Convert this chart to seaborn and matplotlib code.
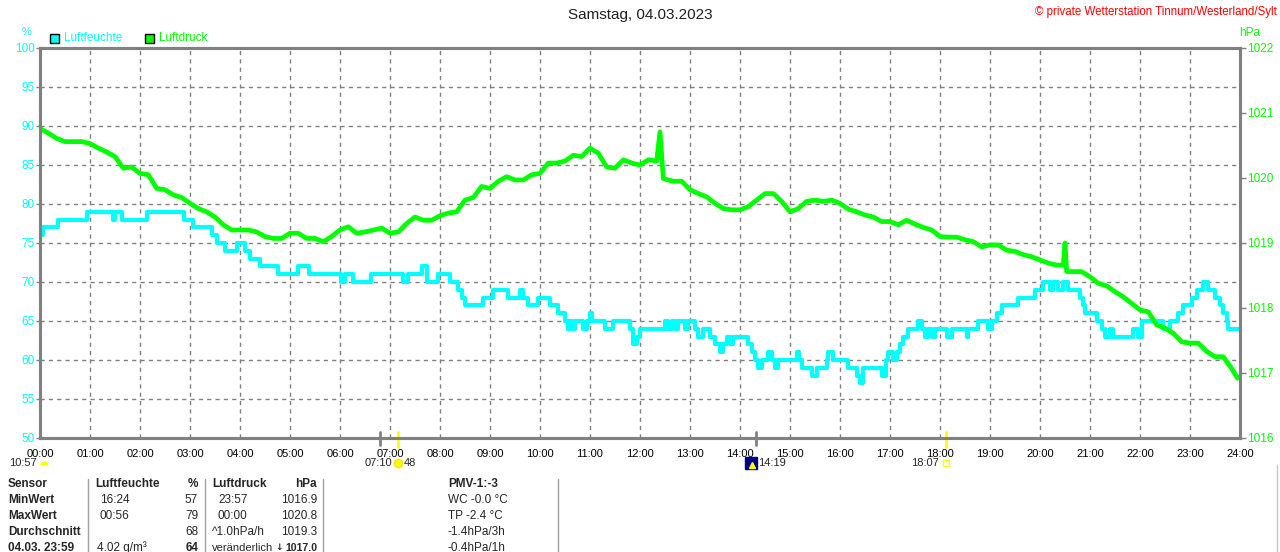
import matplotlib
matplotlib.use("Agg")
import matplotlib.pyplot as plt
import seaborn as sns
import pandas as pd
from matplotlib.lines import Line2D
from matplotlib.patches import Rectangle

# Luftfeuchte (%): Zeitpunkte der Wertänderung
hum_time = ["00:00", "00:04", "00:22", "00:56", "01:27", "01:30", "01:38", "02:08", "02:53", "03:04",
            "03:26", "03:32", "03:42", "03:56", "04:06", "04:12", "04:24", "04:46", "05:10", "05:23",
            "06:01", "06:06", "06:16", "06:37", "07:16", "07:22", "07:38", "07:44", "07:58", "08:12",
            "08:22", "08:27", "08:30", "08:52", "09:04", "09:22", "09:36", "09:40", "09:46", "09:58",
            "10:12", "10:22", "10:30", "10:34", "10:36", "10:39", "10:42", "10:52", "10:56", "11:00",
            "11:02", "11:18", "11:28", "11:48", "11:52", "11:56", "12:00", "12:30", "12:34", "12:38",
            "12:42", "12:46", "12:54", "12:58", "13:06", "13:10", "13:16", "13:24", "13:30", "13:36",
            "13:40", "13:44", "13:48", "13:52", "14:10", "14:14", "14:18", "14:22", "14:26", "14:34",
            "14:38", "14:42", "14:46", "15:08", "15:11", "15:14", "15:26", "15:32", "15:44", "15:46",
            "15:52", "16:10", "16:20", "16:24", "16:28", "16:50", "16:55", "16:58", "17:04", "17:08",
            "17:12", "17:16", "17:22", "17:34", "17:38", "17:42", "17:46", "17:50", "17:54", "18:08",
            "18:14", "18:32", "18:34", "18:46", "18:58", "19:02", "19:08", "19:14", "19:34", "19:54",
            "20:04", "20:12", "20:16", "20:22", "20:28", "20:34", "20:48", "20:52", "20:54", "21:08",
            "21:14", "21:18", "21:24", "21:28", "21:52", "21:58", "22:02", "22:28", "22:36", "22:46",
            "22:52", "23:02", "23:08", "23:16", "23:22", "23:30", "23:36", "23:40", "23:44", "23:46",
            "24:00"]
hum_value = [76, 77, 78, 79, 78, 79, 78, 79, 78, 77,
             76, 75, 74, 75, 74, 73, 72, 71, 72, 71,
             70, 71, 70, 71, 70, 71, 72, 70, 71, 70,
             69, 68, 67, 68, 69, 68, 69, 68, 67, 68,
             67, 66, 65, 64, 65, 64, 65, 64, 65, 66,
             65, 64, 65, 64, 62, 63, 64, 65, 64, 65,
             64, 65, 64, 65, 64, 63, 64, 63, 62, 61,
             62, 63, 62, 63, 62, 61, 60, 59, 60, 61,
             60, 59, 60, 61, 60, 59, 58, 59, 60, 61,
             60, 59, 58, 57, 59, 58, 60, 61, 60, 61,
             62, 63, 64, 65, 64, 63, 64, 63, 64, 63,
             64, 63, 64, 65, 64, 65, 66, 67, 68, 69,
             70, 69, 70, 69, 70, 69, 68, 67, 66, 65,
             64, 63, 64, 63, 64, 63, 65, 64, 65, 66,
             67, 68, 69, 70, 69, 68, 67, 66, 65, 64,
             64]

# Luftdruck (hPa)
press_time = ["00:00", "00:10", "00:20", "00:30", "00:40", "00:50", "01:00", "01:10", "01:20", "01:30",
              "01:40", "01:50", "02:00", "02:10", "02:20", "02:30", "02:40", "02:50", "03:00", "03:10",
              "03:20", "03:30", "03:40", "03:50", "04:00", "04:10", "04:20", "04:30", "04:40", "04:50",
              "05:00", "05:10", "05:20", "05:30", "05:40", "05:50", "06:00", "06:10", "06:20", "06:30",
              "06:40", "06:50", "07:00", "07:10", "07:20", "07:30", "07:40", "07:50", "08:00", "08:10",
              "08:20", "08:30", "08:40", "08:50", "09:00", "09:10", "09:20", "09:30", "09:40", "09:50",
              "10:00", "10:10", "10:20", "10:30", "10:40", "10:50", "11:00", "11:10", "11:20", "11:30",
              "11:40", "11:50", "12:00", "12:10", "12:20", "12:24", "12:28", "12:40", "12:50", "13:00",
              "13:10", "13:20", "13:30", "13:40", "13:50", "14:00", "14:10", "14:20", "14:30", "14:40",
              "14:50", "15:00", "15:10", "15:20", "15:30", "15:40", "15:50", "16:00", "16:10", "16:20",
              "16:30", "16:40", "16:50", "17:00", "17:10", "17:20", "17:30", "17:40", "17:50", "18:00",
              "18:10", "18:20", "18:30", "18:40", "18:50", "19:00", "19:10", "19:20", "19:30", "19:40",
              "19:50", "20:00", "20:10", "20:20", "20:28", "20:30", "20:32", "20:40", "20:50", "21:00",
              "21:10", "21:20", "21:30", "21:40", "21:50", "22:00", "22:10", "22:20", "22:30", "22:40",
              "22:50", "23:00", "23:10", "23:20", "23:30", "23:40", "23:50", "23:57", "24:00"]
press_value = [1020.76, 1020.69, 1020.61, 1020.56, 1020.56, 1020.56, 1020.53, 1020.46, 1020.40, 1020.33,
               1020.15, 1020.17, 1020.07, 1020.05, 1019.84, 1019.82, 1019.74, 1019.70, 1019.61, 1019.53,
               1019.48, 1019.40, 1019.28, 1019.20, 1019.20, 1019.20, 1019.17, 1019.10, 1019.07, 1019.07,
               1019.15, 1019.15, 1019.07, 1019.07, 1019.02, 1019.10, 1019.20, 1019.25, 1019.15, 1019.17,
               1019.20, 1019.23, 1019.15, 1019.17, 1019.30, 1019.40, 1019.35, 1019.35, 1019.42, 1019.46,
               1019.48, 1019.66, 1019.70, 1019.87, 1019.84, 1019.95, 1020.02, 1019.97, 1019.97, 1020.05,
               1020.07, 1020.23, 1020.23, 1020.26, 1020.35, 1020.33, 1020.46, 1020.38, 1020.17, 1020.15,
               1020.28, 1020.23, 1020.20, 1020.28, 1020.26, 1020.71, 1019.99, 1019.95, 1019.95, 1019.82,
               1019.76, 1019.71, 1019.61, 1019.53, 1019.51, 1019.51, 1019.56, 1019.66, 1019.76, 1019.76,
               1019.64, 1019.48, 1019.53, 1019.64, 1019.66, 1019.64, 1019.66, 1019.61, 1019.52, 1019.48,
               1019.43, 1019.40, 1019.33, 1019.33, 1019.28, 1019.35, 1019.29, 1019.24, 1019.20, 1019.10,
               1019.09, 1019.09, 1019.05, 1019.02, 1018.94, 1018.97, 1018.97, 1018.89, 1018.87, 1018.82,
               1018.79, 1018.74, 1018.69, 1018.66, 1018.66, 1019.00, 1018.56, 1018.56, 1018.56, 1018.48,
               1018.38, 1018.34, 1018.25, 1018.17, 1018.07, 1017.97, 1017.94, 1017.74, 1017.69, 1017.61,
               1017.48, 1017.46, 1017.46, 1017.33, 1017.25, 1017.25, 1017.07, 1016.92, 1016.95]

hour_labels = [f"{h:02d}:00" for h in range(25)]
hum_ticks = [50, 55, 60, 65, 70, 75, 80, 85, 90, 95, 100]
press_ticks = [1016, 1017, 1018, 1019, 1020, 1021, 1022]

# Sonne / Mond Ereignisse
gray_marks = ["06:48", "14:19"]
yellow_marks = ["07:10", "18:07"]

table_rows = [
    ["Sensor", "Luftfeuchte", "", "%", "Luftdruck", "", "hPa", "PMV-1:-3"],
    ["MinWert", "", "16:24", "57", "", "23:57", "1016.9", "WC -0.0 °C"],
    ["MaxWert", "", "00:56", "79", "", "00:00", "1020.8", "TP -2.4 °C"],
    ["Durchschnitt", "", "", "68", "^1.0hPa/h", "", "1019.3", "-1.4hPa/3h"],
    ["04.03. 23:59", "4.02 g/m³", "", "64", "veränderlich", "", "1017.0", "-0.4hPa/1h"],
]


def to_hours(s):
    h, m = s.split(":")
    return int(h) + int(m) / 60


hum = pd.DataFrame({"t": [to_hours(s) for s in hum_time], "v": hum_value})
press = pd.DataFrame({"t": [to_hours(s) for s in press_time], "v": press_value})

sns.set_theme(style="white")
plt.rcParams["font.family"] = ["Liberation Sans", "DejaVu Sans"]

CYAN = "#00ffff"
GREEN = "#00ff00"
GRAY = "#808080"
W, H = 1280, 552

fig = plt.figure(figsize=(12.8, 5.52), dpi=100)
ax = fig.add_axes([40 / W, 114 / H, 1200 / W, 390 / H])

sns.lineplot(data=hum, x="t", y="v", ax=ax, color=CYAN, linewidth=3,
             drawstyle="steps-post", estimator=None, zorder=3)
ax.set_xlim(0, 24)
ax.set_ylim(50, 100)
ax.set_xticks(range(25))
ax.set_xticklabels(hour_labels)
ax.set_yticks(hum_ticks)
ax.set_xlabel("")
ax.set_ylabel("")
ax.set_axisbelow(True)
ax.grid(True, color=GRAY, linestyle=(0, (3, 3)), linewidth=1)
ax.tick_params(axis="x", length=0, pad=8, labelsize=8, labelcolor="black")
ax.tick_params(axis="y", length=3, width=1, color=GRAY, pad=1, labelsize=8.5, labelcolor=CYAN)

ax2 = ax.twinx()
sns.lineplot(data=press, x="t", y="v", ax=ax2, color=GREEN, linewidth=3.4, estimator=None)
ax2.set_ylim(1016, 1022)
ax2.set_yticks(press_ticks)
ax2.set_ylabel("")
ax2.tick_params(axis="y", length=4, width=1, color=GRAY, pad=1, labelsize=8.5, labelcolor=GREEN)

for a in (ax, ax2):
    for sp in a.spines.values():
        sp.set_color(GRAY)
        sp.set_linewidth(2.2)
        sp.set_visible(True)


def t(px, py, s, **kw):
    kw.setdefault("va", "center")
    kw.setdefault("fontsize", 8)
    return fig.text(px / W, 1 - py / H, s, **kw)


# Kopf
t(640, 15, "Samstag, 04.03.2023", ha="center", fontsize=11, color="#202020")
t(1277, 12, "© private Wetterstation Tinnum/Westerland/Sylt", ha="right", color="red", fontsize=8.3)
t(27, 32, "%", ha="center", color=CYAN)
t(1250, 33, "hPa", ha="center", color=GREEN, fontsize=8.5)
fig.add_artist(Rectangle((50 / W, 1 - 43 / H), 9 / W, 9 / H, facecolor=CYAN,
                         edgecolor="black", linewidth=1, transform=fig.transFigure))
t(64, 38, "Luftfeuchte", ha="left", color=CYAN, fontsize=8.5)
fig.add_artist(Rectangle((145 / W, 1 - 43 / H), 9 / W, 9 / H, facecolor=GREEN,
                         edgecolor="black", linewidth=1, transform=fig.transFigure))
t(159, 38, "Luftdruck", ha="left", color=GREEN, fontsize=8.5)

# Sonnen- und Mondzeiten an der Zeitachse
tr = ax.get_xaxis_transform()
for s in gray_marks:
    x = to_hours(s)
    ax.plot([x, x], [0.016, -0.018], color=GRAY, linewidth=2, transform=tr, clip_on=False, zorder=5)
for s in yellow_marks:
    x = to_hours(s)
    ax.plot([x, x], [0.016, -0.022], color="#ffff00", linewidth=2, transform=tr, clip_on=False, zorder=5)

ty = -0.064
ax.text(-0.06, ty, "10:57", ha="right", va="center", fontsize=8, transform=tr)
ax.plot([0.08], [ty - 0.004], marker="o", markersize=6, fillstyle="top", color="#ffff00",
        markeredgewidth=0, transform=tr, clip_on=False)
ax.text(to_hours("07:10") - 0.12, ty, "07:10", ha="right", va="center", fontsize=8, transform=tr)
ax.plot([to_hours("07:10")], [ty], marker="o", markersize=6, color="#ffff00",
        markeredgecolor="#ffe000", transform=tr, clip_on=False)
ax.text(to_hours("07:10") + 0.1, ty, "48", ha="left", va="center", fontsize=8, transform=tr)
ax.plot([to_hours("14:19") - 0.1], [ty], marker="s", markersize=8, color="#000080",
        transform=tr, clip_on=False)
ax.plot([to_hours("14:19") - 0.07], [ty - 0.005], marker="^", markersize=4, color="#ffff00",
        transform=tr, clip_on=False)
ax.text(to_hours("14:19") + 0.04, ty, "14:19", ha="left", va="center", fontsize=8, transform=tr)
ax.text(to_hours("18:07") - 0.14, ty, "18:07", ha="right", va="center", fontsize=8, transform=tr)
ax.plot([to_hours("18:07")], [ty], marker="s", markersize=4, markerfacecolor="none",
        markeredgecolor="#ffff00", transform=tr, clip_on=False)

# Tabelle
for x in (88, 205, 323, 558):
    fig.add_artist(Line2D([x / W, x / W], [1 - 479 / H, 0], color="#a0a0a0", linewidth=1))
fig.add_artist(Line2D([1277 / W, 1277 / W], [1 - 465 / H, 0], color="#c8c8c8", linewidth=1))

row_y = [484, 500, 516, 532, 548]
fs = 8.5
for i, (c0, c1, c2, c3, c4, c5, c6, c7) in enumerate(table_rows):
    y = row_y[i]
    head = i == 0
    last = i == 4
    t(8, y, c0, ha="left", fontweight="bold", fontsize=fs)
    t(95 if head else 97, y, c1, ha="left", fontweight="bold" if head else "normal", fontsize=fs)
    t(100, y, c2, ha="left", fontsize=fs)
    t(198, y, c3, ha="right", fontweight="bold" if head or last else "normal", fontsize=fs)
    t(212, y, c4, ha="left", fontweight="bold" if head else "normal",
      fontsize=8 if last else fs)
    t(218, y, c5, ha="left", fontsize=fs)
    t(317, y, c6, ha="right", fontweight="bold" if head or last else "normal",
      fontsize=7.6 if last else fs)
    t(448, y, c7, ha="left", fontweight="bold" if head else "normal", fontsize=fs)
t(279, 548, "↓", ha="center", fontweight="bold", fontsize=6.5, family=["DejaVu Sans"])

fig.savefig("out.png", dpi=100)
